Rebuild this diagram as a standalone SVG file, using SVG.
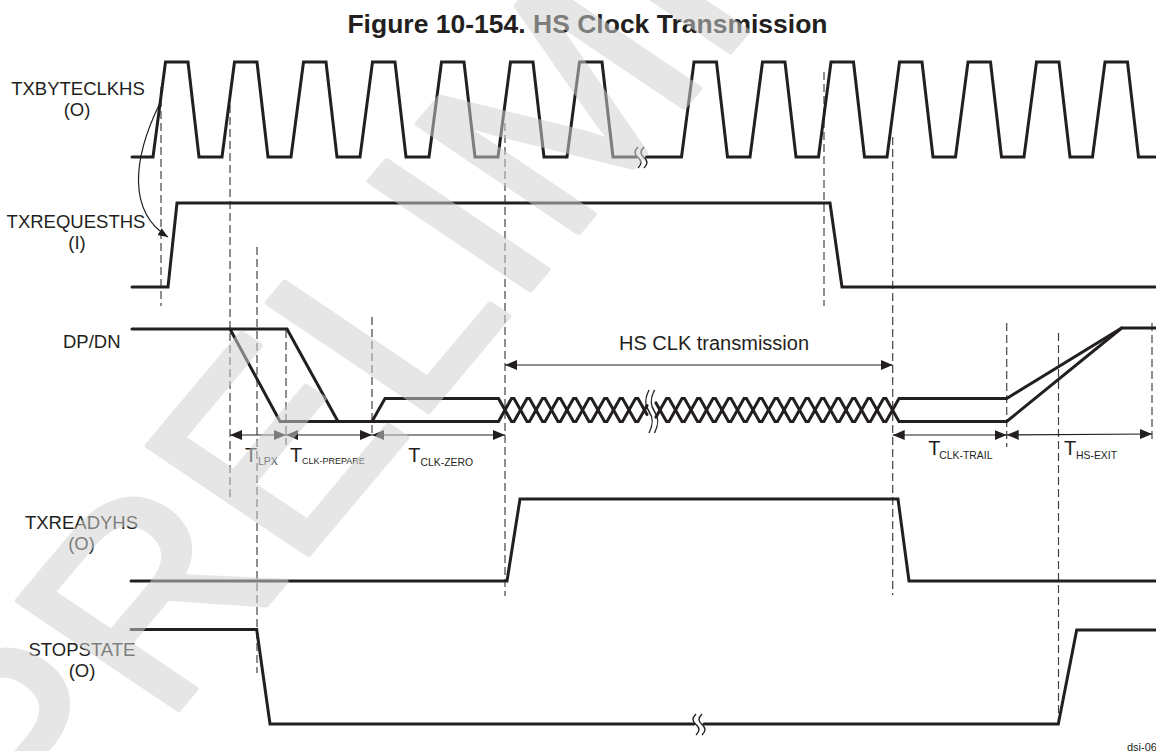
<svg xmlns="http://www.w3.org/2000/svg" width="1156" height="751" viewBox="0 0 1156 751">
<defs>
<style>
.sig{fill:none;stroke:#231f20;stroke-width:3;stroke-linejoin:miter;stroke-linecap:round}
.brk{fill:none;stroke:#231f20;stroke-width:1.4}
.dash{fill:none;stroke:#444;stroke-width:1.2;stroke-dasharray:8 4}
.dim{fill:none;stroke:#231f20;stroke-width:1.2}
.lbl{font-family:'Liberation Sans',Arial,sans-serif;font-size:18.5px;fill:#231f20;text-anchor:middle}
.t{font-family:'Liberation Sans',Arial,sans-serif;font-size:20px;fill:#231f20}
.sub{font-family:'Liberation Sans',Arial,sans-serif;font-size:10.4px;fill:#231f20}
</style>
<marker id="ah" viewBox="0 0 12 10" refX="12" refY="5" markerWidth="12" markerHeight="10" markerUnits="userSpaceOnUse" orient="auto-start-reverse"><path d="M0,0 L12,5 L0,10 z" fill="#231f20"/></marker>
<marker id="ah2" viewBox="0 0 10 8" refX="10" refY="4" markerWidth="10" markerHeight="8" markerUnits="userSpaceOnUse" orient="auto"><path d="M0,0 L10,4 L0,8 z" fill="#231f20"/></marker>
</defs>
<rect width="1156" height="751" fill="#fff"/>
<text x="587.5" y="33" text-anchor="middle" font-family="'Liberation Sans',Arial,sans-serif" font-weight="bold" font-size="26.5" fill="#231f20">Figure 10-154. HS Clock Transmission</text>

<g id="connectors">
<line class="dash" x1="161" y1="87" x2="161" y2="306"/>
<line class="dash" x1="230" y1="105" x2="230" y2="497"/>
<line class="dash" x1="257" y1="247" x2="257" y2="673"/>
<line class="dash" x1="286" y1="330" x2="286" y2="445"/>
<line class="dash" x1="372" y1="317" x2="372" y2="437"/>
<line class="dash" x1="505" y1="123" x2="505" y2="596"/>
<line class="dash" x1="824" y1="72" x2="824" y2="306"/>
<line class="dash" x1="892.7" y1="137" x2="892.7" y2="595"/>
<line class="dash" x1="1006.7" y1="323" x2="1006.7" y2="447"/>
<line class="dash" x1="1058.5" y1="333" x2="1058.5" y2="720"/>
<line class="dash" x1="1152" y1="323" x2="1152" y2="443"/>
<path class="dim" d="M160,103 C132,160 128,212 168,237" marker-end="url(#ah2)"/>
<line class="dim" x1="505" y1="365" x2="892.7" y2="365" marker-start="url(#ah)" marker-end="url(#ah)"/>
<line class="dim" x1="230" y1="435" x2="286" y2="435" marker-start="url(#ah)" marker-end="url(#ah)"/>
<line class="dim" x1="286" y1="435" x2="372" y2="435" marker-start="url(#ah)" marker-end="url(#ah)"/>
<line class="dim" x1="372" y1="435" x2="505" y2="435" marker-start="url(#ah)" marker-end="url(#ah)"/>
<line class="dim" x1="892.7" y1="435" x2="1006.7" y2="435" marker-start="url(#ah)" marker-end="url(#ah)"/>
<line class="dim" x1="1006.7" y1="435" x2="1152" y2="434" marker-start="url(#ah)" marker-end="url(#ah)"/>
<text x="714" y="350" text-anchor="middle" font-family="'Liberation Sans',Arial,sans-serif" font-size="20" fill="#231f20">HS CLK transmission</text>
<text class="t" x="245" y="462">T</text><text class="sub" x="258" y="465" font-size="10.5">LPX</text>
<text class="t" x="290" y="462">T</text><text class="sub" x="302" y="463.5" style="font-size:9px">CLK-PREPARE</text>
<text class="t" x="408.3" y="462">T</text><text class="sub" x="420.5" y="465.5">CLK-ZERO</text>
<text class="t" x="928.3" y="455">T</text><text class="sub" x="939.3" y="458.5">CLK-TRAIL</text>
<text class="t" x="1064" y="455">T</text><text class="sub" x="1076" y="458.5">HS-EXIT</text>
</g>

<g id="txbyteclkhs">
<text class="lbl" x="78" y="95">TXBYTECLKHS</text>
<text class="lbl" x="77" y="116">(O)</text>
<path class="sig" d="M132,157 H153 L165.5,62 H188 L199,157 H222 L234.5,62 H257 L268,157 H291 L303.5,62 H326 L337,157 H360 L372.5,62 H395 L406,157 H429 L441.5,62 H464 L475,157 H498 L510.5,62 H533 L544,157 H567 L579.5,62 H602 L613,157 H636"/>
<path class="sig" d="M646,157 H681.5 L694,62 H716.5 L727.5,157 H750 L762.5,62 H785 L796,157 H818.5 L831,62 H853.5 L864.5,157 H887 L899.5,62 H922 L933,157 H955.5 L968,62 H990.5 L1001.5,157 H1024 L1036.5,62 H1059 L1070,157 H1092.5 L1105,62 H1127.5 L1138.5,157 H1155"/>
<path class="brk" d="M638,147 C634,151 634,154 638,157.5 S642,164 638,168"/>
<path class="brk" d="M644,147 C640,151 640,154 644,157.5 S648,164 644,168"/>
</g>

<g id="txrequesths">
<text class="lbl" x="76" y="228">TXREQUESTHS</text>
<text class="lbl" x="77" y="249">(I)</text>
<path class="sig" d="M132,287 H168 L177,203 H830 L842,287 H1155"/>
</g>

<g id="dpdn">
<text x="63" y="348" font-family="'Liberation Sans',Arial,sans-serif" font-size="18.5" fill="#231f20">DP/DN</text>
<path class="sig" d="M132,329 H230 L280,421.5 H498.5 L511.5,398.5 L514,398.5 L527,421.5 L529.5,421.5 L542.5,398.5 L545,398.5 L558,421.5 L560.5,421.5 L573.5,398.5 L576,398.5 L589,421.5 L591.5,421.5 L604.5,398.5 L607,398.5 L620,421.5 L622.5,421.5 L635.5,398.5 L638,398.5 L647,414.4"/>
<path class="sig" d="M230,329 H287 L338,421.5 H372 L385,398.5 H498.5 L511.5,421.5 L514,421.5 L527,398.5 L529.5,398.5 L542.5,421.5 L545,421.5 L558,398.5 L560.5,398.5 L573.5,421.5 L576,421.5 L589,398.5 L591.5,398.5 L604.5,421.5 L607,421.5 L620,398.5 L622.5,398.5 L635.5,421.5 L638,421.5 L647,405.6"/>
<path class="sig" d="M656,402.9 L666.5,421.5 L669,421.5 L682,398.5 L684.5,398.5 L697.5,421.5 L700,421.5 L713,398.5 L715.5,398.5 L728.5,421.5 L731,421.5 L744,398.5 L746.5,398.5 L759.5,421.5 L762,421.5 L775,398.5 L777.5,398.5 L790.5,421.5 L793,421.5 L806,398.5 L808.5,398.5 L821.5,421.5 L824,421.5 L837,398.5 L839.5,398.5 L852.5,421.5 L855,421.5 L868,398.5 L870.5,398.5 L883.5,421.5 L886,421.5 L899,398.5 H1006.7 L1121.7,328 H1156"/>
<path class="sig" d="M656,417.1 L666.5,398.5 L669,398.5 L682,421.5 L684.5,421.5 L697.5,398.5 L700,398.5 L713,421.5 L715.5,421.5 L728.5,398.5 L731,398.5 L744,421.5 L746.5,421.5 L759.5,398.5 L762,398.5 L775,421.5 L777.5,421.5 L790.5,398.5 L793,398.5 L806,421.5 L808.5,421.5 L821.5,398.5 L824,398.5 L837,421.5 L839.5,421.5 L852.5,398.5 L855,398.5 L868,421.5 L870.5,421.5 L883.5,398.5 L886,398.5 L899,421.5 H1006.7 L1121.7,328"/>
<path class="brk" d="M649,390 C644.5,399 644.5,405 649,411.5 S653.5,424 649,433"/>
<path class="brk" d="M654.5,390 C650,399 650,405 654.5,411.5 S659,424 654.5,433"/>
</g>

<g id="txreadyhs">
<text class="lbl" x="81.5" y="529">TXREADYHS</text>
<text class="lbl" x="81.5" y="550">(O)</text>
<path class="sig" d="M131,581 H507 L520,499 H898 L909,581 H1156"/>
</g>

<g id="stopstate">
<text class="lbl" x="82" y="656">STOPSTATE</text>
<text class="lbl" x="82" y="677">(O)</text>
<path class="sig" d="M131,629.5 H256.7 L270,724 H694"/>
<path class="sig" d="M704,724 H1058.3 L1076.7,630 H1156"/>
<path class="brk" d="M696,714 C692,718 692,721 696,724.5 S700,731 696,735"/>
<path class="brk" d="M702,714 C698,718 698,721 702,724.5 S706,731 702,735"/>
</g>

<text x="1127" y="750.5" font-family="'Liberation Sans',Arial,sans-serif" font-size="11" fill="#231f20">dsi-06</text>

<g id="watermark" opacity="0.53">
<text transform="translate(43.7,869.6) rotate(-50) skewX(6)" font-family="'Liberation Sans',Arial,sans-serif" font-size="280" fill="#d0d0d0" stroke="#d0d0d0" stroke-width="6" stroke-linejoin="round">PRELIMINARY</text>
</g>
</svg>
